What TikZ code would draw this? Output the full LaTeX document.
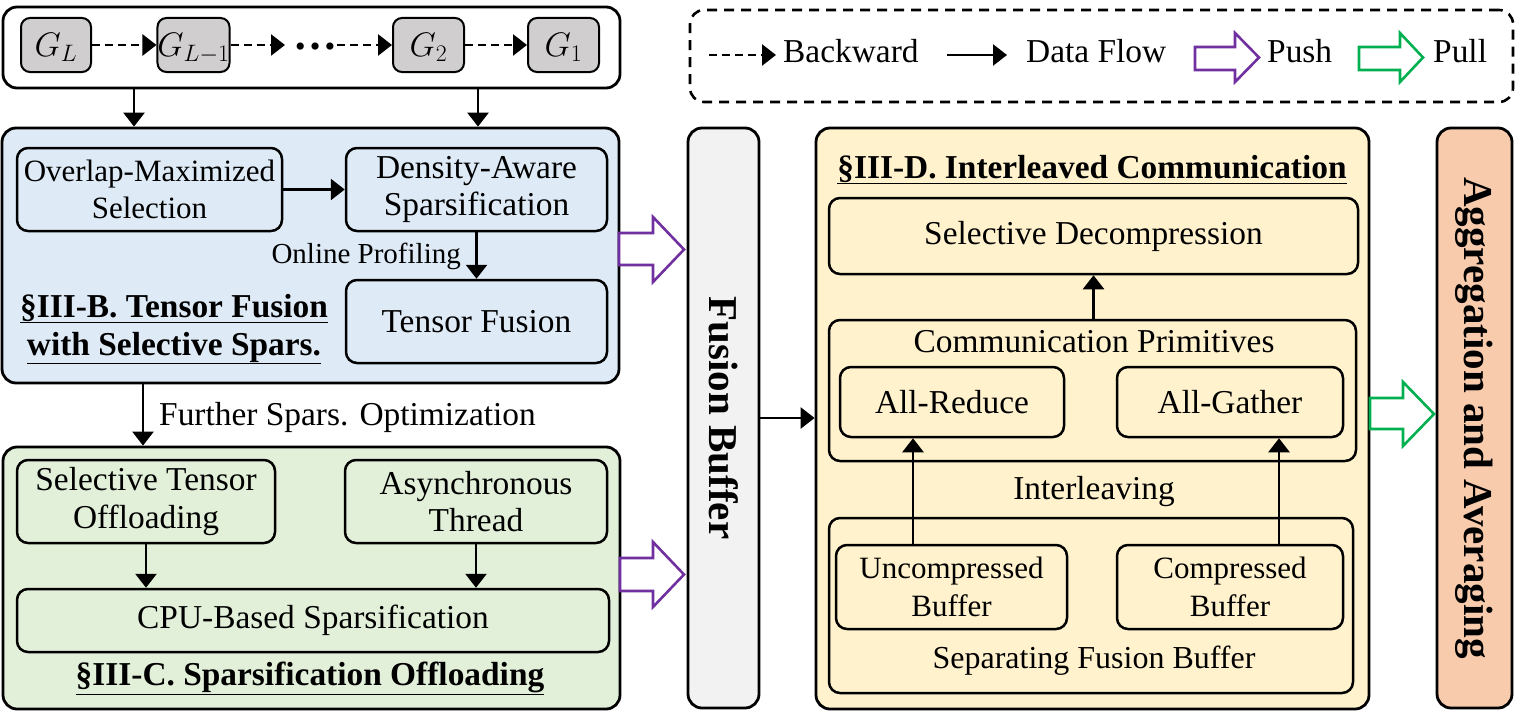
\RequirePackage{fix-cm}
\documentclass[tikz,border=0pt]{standalone}
\usepackage{fontspec}
\setmainfont{Liberation Serif}
\usetikzlibrary{arrows.meta}
\definecolor{bluef}{HTML}{DEEBF7}
\definecolor{greenf}{HTML}{E2F0D9}
\definecolor{yellowf}{HTML}{FFF2CC}
\definecolor{greyf}{HTML}{D0CECE}
\definecolor{fbf}{HTML}{F2F2F2}
\definecolor{aggf}{HTML}{F8CBAD}
\definecolor{pushc}{HTML}{7030A0}
\definecolor{pullc}{HTML}{00B050}
\newcommand\mainfs{\fontsize{33.4}{37.5}\selectfont}
\newcommand\midfs{\fontsize{31}{37.5}\selectfont}
\newcommand\smallfs{\fontsize{29}{33}\selectfont}
\newcommand\vertfs{\fontsize{41}{45}\selectfont\bfseries}
\newcommand\gfs{\fontsize{34}{40}\selectfont}
\begin{document}
\begin{tikzpicture}[x=1pt,y=-1pt,
  region/.style={draw, line width=2.8pt, rounded corners=14pt, inner sep=0pt},
  box/.style={draw, line width=2.5pt, rounded corners=11pt, align=center, inner sep=0pt, font=\mainfs},
  gnode/.style={draw, line width=2pt, rounded corners=9pt, fill=greyf, minimum width=70pt, minimum height=54pt, inner sep=0pt, text height=27pt, text depth=4pt, font=\gfs},
  lbl/.style={inner sep=0pt, font=\mainfs},
  arr/.style={line width=2.6pt, -{Triangle[length=14pt,width=21pt]}},
  darr/.style={arr, dash pattern=on 8pt off 5pt},
  blockp/.style={draw=pushc, line width=2.6pt, fill=white, line join=miter},
  blockg/.style={draw=pullc, line width=2.6pt, fill=white, line join=miter},
]
\useasboundingbox (0,0) rectangle (1517,717);

% ---------- legend ----------
\node[draw, line width=2.6pt, dash pattern=on 10pt off 7pt, rounded corners=14pt, minimum width=823pt, minimum height=92pt] (legend) at (1101.5,56) {};
\coordinate (lb1) at (709,55); \coordinate (lb2) at (776,55);
\draw[darr] (lb1) -- (lb2);
\node[lbl, anchor=base west] (lbtxt) at (783,63) {Backward};
\coordinate (ld1) at (947,55); \coordinate (ld2) at (1007,55);
\draw[arr] (ld1) -- (ld2);
\node[lbl, anchor=base west] (ldtxt) at (1026,63) {Data Flow};
\draw[blockp] (1195,47) -- (1235,47) -- (1235,33) -- (1259,57.5) -- (1235,82) -- (1235,70) -- (1195,70) -- cycle;
\node[lbl, anchor=base west] (lptxt) at (1267,63) {Push};
\draw[blockg] (1359,47) -- (1400,47) -- (1400,33) -- (1423,57.5) -- (1400,82) -- (1400,70) -- (1359,70) -- cycle;
\node[lbl, anchor=base west] (lltxt) at (1433,63) {Pull};

% ---------- gradients ----------
\node[region, minimum width=617pt, minimum height=81pt] (gbox) at (311.5,47.5) {};
\node[gnode] (gL) at (56,45) {$G_L$};
\node[gnode, minimum width=71pt] (gL1) at (193.5,45) {$G_{L-1}$};
\node[inner sep=0pt, font=\fontsize{44}{48}\selectfont\bfseries] (dots) at (315,47) {…};
\node[gnode, minimum width=71pt] (g2) at (428.5,45) {$G_2$};
\node[gnode, minimum width=71pt] (g1) at (563.5,45) {$G_1$};
\draw[darr] (gL.east) -- (gL1.west);
\draw[darr] (gL1.east) -- (285,45) coordinate (dA);
\coordinate (dB) at (337,45);
\draw[darr] (dB) -- (g2.west);
\draw[darr] (g2.east) -- (g1.west);

% ---------- III-B ----------
\node[region, fill=bluef, minimum width=617pt, minimum height=255pt] (blue) at (310.5,255.5) {};
\coordinate (ax1) at (134,0);
\coordinate (ax2) at (478,0);
\draw[arr] (gbox.south -| ax1) -- (blue.north -| ax1);
\draw[arr] (gbox.south -| ax2) -- (blue.north -| ax2);
\node[box, font=\midfs, minimum width=265pt, minimum height=83pt] (overlap) at (149.5,189.5) {Overlap-Maximized\\Selection};
\node[box, minimum width=261pt, minimum height=83pt] (density) at (476.5,189.5) {Density-Aware\\Sparsification};
\node[box, minimum width=261pt, minimum height=83pt] (tfusion) at (476.5,321.5) {Tensor Fusion};
\draw[arr] (overlap.east) -- (density.west);
\draw[arr] (density.south) -- (tfusion.north);
\node[inner sep=0pt, font=\smallfs, anchor=base east] (online) at (461,263) {Online Profiling};
\node[inner sep=0pt, font=\mainfs\bfseries, anchor=base] (titleB1) at (174,317) {\underline{§III-B. Tensor Fusion}};
\node[inner sep=0pt, font=\mainfs\bfseries, anchor=base] (titleB2) at (174,355) {\underline{with Selective Spars.}};

% ---------- III-C ----------
\node[region, fill=greenf, minimum width=617pt, minimum height=262pt] (green) at (311.5,578) {};
\coordinate (ax3) at (143,0);
\draw[arr] (blue.south -| ax3) -- (green.north -| ax3);
\node[lbl, anchor=base west] (further) at (159,425) {Further Spars. Optimization};
\node[box, minimum width=258pt, minimum height=83pt] (seltensor) at (146,501.5) {Selective Tensor\\Offloading};
\node[box, minimum width=262pt, minimum height=83pt] (async) at (476,501.5) {Asynchronous\\Thread};
\node[box, minimum width=592pt, minimum height=63pt] (cpu) at (313,620.5) {CPU-Based Sparsification};
\draw[arr] (seltensor.south) -- (seltensor.south |- cpu.north);
\draw[arr] (async.south) -- (async.south |- cpu.north);
\node[inner sep=0pt, font=\mainfs\bfseries, anchor=base] (titleC) at (310,685) {\underline{§III-C. Sparsification Offloading}};

% push arrows
\draw[blockp] (619,233) -- (653,233) -- (653,217) -- (684,249.5) -- (653,282) -- (653,265) -- (619,265) -- cycle;
\draw[blockp] (620,558) -- (653,558) -- (653,542) -- (684,574.5) -- (653,607) -- (653,591) -- (620,591) -- cycle;

% ---------- fusion buffer ----------
\node[region, fill=fbf, minimum width=71pt, minimum height=580pt] (fusionbuf) at (723.5,418) {};
\node[inner sep=0pt, rotate=-90, font=\vertfs] (fbtext) at (fusionbuf.center) {Fusion Buffer};

% ---------- III-D ----------
\node[region, fill=yellowf, minimum width=553pt, minimum height=581pt] (yellow) at (1092.5,418.5) {};
\draw[arr] (fusionbuf.east) -- (fusionbuf.east -| yellow.west);
\node[inner sep=0pt, font=\mainfs\bfseries, anchor=base] (titleD) at (1092,178) {\underline{§III-D. Interleaved Communication}};
\node[box, minimum width=529pt, minimum height=76pt] (seldec) at (1093.5,236) {Selective Decompression};
\node[box, minimum width=527pt, minimum height=141pt] (comm) at (1092.5,390.5) {};
\node[lbl, anchor=base] (commtxt) at (1094,352) {Communication Primitives};
\node[box, minimum width=224pt, minimum height=70pt] (allreduce) at (952,402) {All-Reduce};
\node[box, minimum width=226pt, minimum height=70pt] (allgather) at (1230,402) {All-Gather};
\draw[arr] (comm.north -| seldec) -- (seldec.south);
\node[lbl, anchor=base] (interl) at (1094,499) {Interleaving};
\node[box, minimum width=524pt, minimum height=175pt] (sep) at (1091,605.5) {};
\node[lbl, font=\fontsize{32}{37}\selectfont, anchor=base] (septxt) at (1094,668) {Separating Fusion Buffer};
\node[box, font=\midfs, minimum width=231pt, minimum height=84pt] (uncomp) at (951.5,587) {Uncompressed\\Buffer};
\node[box, font=\midfs, minimum width=226pt, minimum height=84pt] (compr) at (1230,587) {Compressed\\Buffer};
\coordinate (ax4) at (913,0);
\coordinate (ax5) at (1279,0);
\draw[arr] (uncomp.north -| ax4) -- (allreduce.south -| ax4);
\draw[arr] (compr.north -| ax5) -- (allgather.south -| ax5);

% ---------- aggregation ----------
\node[region, fill=aggf, minimum width=75pt, minimum height=580pt] (agg) at (1474.5,418) {};
\node[inner sep=0pt, rotate=-90, font=\vertfs] (aggtext) at (agg.center) {Aggregation and Averaging};

% pull arrow
\draw[blockg] (1370,398) -- (1403,398) -- (1403,382) -- (1434,414) -- (1403,446) -- (1403,429) -- (1370,429) -- cycle;
\end{tikzpicture}
\end{document}
